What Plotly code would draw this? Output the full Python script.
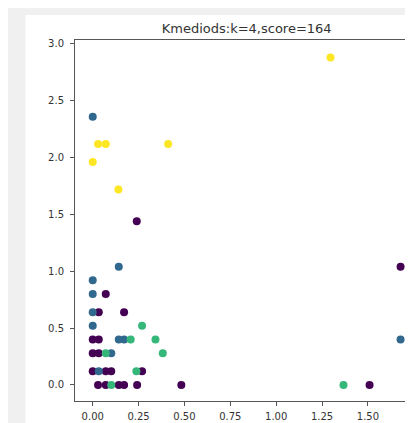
import plotly.graph_objects as go

# cluster 0 (purple)
x0 = [0.24, 0.071, 0.033, 0.171, 0.0, 0.033, 0.0, 0.033, 0.0, 0.071, 0.101, 0.269,
      0.029, 0.071, 0.142, 0.171, 0.242, 0.483, 1.509, 1.678]
y0 = [1.44, 0.80, 0.64, 0.64, 0.40, 0.40, 0.28, 0.28, 0.12, 0.12, 0.12, 0.12,
      0.0, 0.0, 0.0, 0.0, 0.0, 0.0, 0.0, 1.04]

# cluster 1 (blue)
x1 = [0.0, 0.142, 0.0, 0.0, 0.0, 0.0, 0.142, 0.171, 0.101, 0.033, 1.678]
y1 = [2.36, 1.04, 0.92, 0.80, 0.64, 0.52, 0.40, 0.40, 0.28, 0.12, 0.40]

# cluster 2 (green)
x2 = [0.269, 0.207, 0.342, 0.071, 0.382, 0.238, 0.101, 1.367]
y2 = [0.52, 0.40, 0.40, 0.28, 0.28, 0.12, 0.0, 0.0]

# cluster 3 (yellow)
x3 = [1.296, 0.029, 0.071, 0.411, 0.0, 0.14]
y3 = [2.88, 2.12, 2.12, 2.12, 1.96, 1.72]

clusters = [
    (x0, y0, "#440154"),
    (x1, y1, "#31688e"),
    (x2, y2, "#35b779"),
    (x3, y3, "#fde725"),
]

fig = go.Figure()

for xs, ys, col in clusters:
    fig.add_trace(go.Scatter(
        x=xs,
        y=ys,
        mode="markers",
        marker=dict(color=col, size=8, line=dict(width=0)),
        showlegend=False
    ))

# white figure area on the grey page
fig.add_shape(type="rect", xref="paper", yref="paper",
              x0=-0.144, x1=1.02, y0=-0.09, y1=1.069,
              fillcolor="white", line=dict(width=0), layer="below")

axis_style = dict(
    showline=True, mirror=True, linecolor="#555", linewidth=1,
    showgrid=False, zeroline=False,
    ticks="outside", ticklen=4, tickcolor="#555",
    tickfont=dict(family="DejaVu Sans", size=10, color="#333"),
)

fig.update_xaxes(range=[-0.0966, 1.773], tickvals=[0, 0.25, 0.5, 0.75, 1.0, 1.25, 1.5, 1.75],
                 tickformat=".2f", ticklabelstandoff=2, **axis_style)
fig.update_yaxes(range=[-0.141, 3.034], tickvals=[0, 0.5, 1.0, 1.5, 2.0, 2.5, 3.0],
                 tickformat=".1f", ticklabelstandoff=4, **axis_style)

fig.update_layout(
    width=413,
    height=423,
    margin=dict(l=67, r=3, t=32, b=30),
    paper_bgcolor="#f0f0f0",
    plot_bgcolor="white",
    title=dict(text="Kmediods:k=4,score=164", x=0.578, xanchor="center", y=0.951, yanchor="middle",
               font=dict(family="DejaVu Sans", size=13, color="#333")),
)

fig.write_html("out.html")
